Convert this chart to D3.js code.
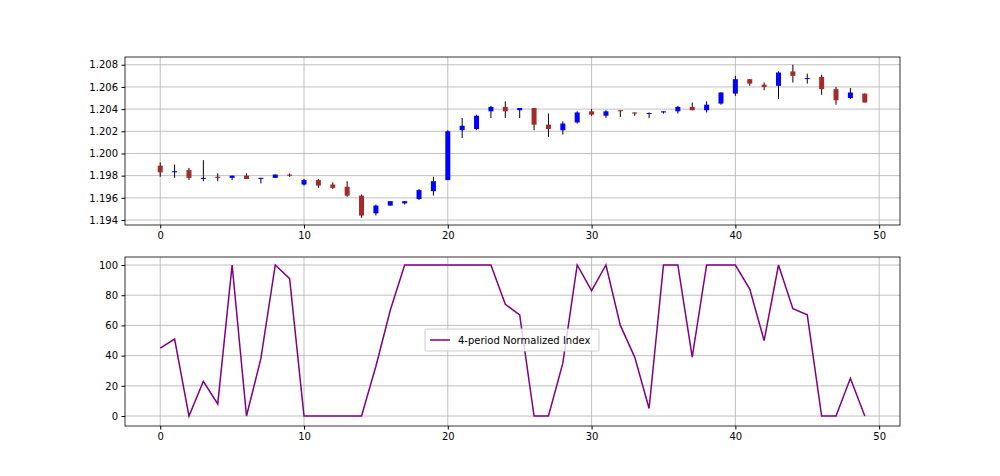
<!DOCTYPE html>
<html><head><meta charset="utf-8">
<script src="https://cdn.jsdelivr.net/npm/d3@7"></script>
<style>body{margin:0;background:#fff}text{font-family:"DejaVu Sans",sans-serif}</style>
</head><body><svg width="1000" height="476"></svg>
<script>
const opens  = [1.1989,1.1983,1.1985,1.1977,1.1979,1.1978,1.1980,1.1977,1.1978,1.1981,1.1972,1.1976,1.1972,1.1970,1.1962,1.1946,1.1953,1.1955,1.1959,1.1966,1.1976,1.2021,1.2022,1.2038,1.2042,1.2039,1.2041,1.2026,1.2021,1.2028,1.2038,1.2034,1.2039,1.2037,1.2036,1.2037,1.2038,1.2042,1.2039,1.2045,1.2054,1.2067,1.2062,1.2061,1.2074,1.2068,1.2069,1.2058,1.2050,1.2054];
const highs  = [1.1992,1.1990,1.1987,1.1994,1.1982,1.1980,1.1982,1.1978,1.1981,1.1982,1.1977,1.1977,1.1974,1.1975,1.1963,1.1954,1.1957,1.1957,1.1968,1.1979,1.2021,1.2032,1.2035,1.2043,1.2047,1.2041,1.2041,1.2036,1.2029,1.2038,1.2040,1.2039,1.2039,1.2037,1.2037,1.2038,1.2043,1.2046,1.2047,1.2055,1.2070,1.2067,1.2064,1.2074,1.2080,1.2072,1.2071,1.2060,1.2059,1.2054];
const lows   = [1.1979,1.1978,1.1976,1.1975,1.1975,1.1976,1.1977,1.1973,1.1978,1.1979,1.1971,1.1969,1.1968,1.1961,1.1942,1.1944,1.1953,1.1954,1.1958,1.1962,1.1976,1.2014,1.2021,1.2032,1.2032,1.2032,1.2021,1.2015,1.2017,1.2027,1.2034,1.2032,1.2033,1.2034,1.2032,1.2036,1.2036,1.2039,1.2037,1.2044,1.2052,1.2061,1.2057,1.2049,1.2064,1.2063,1.2053,1.2044,1.2049,1.2046];
const closes = [1.1983,1.1984,1.1978,1.1978,1.1978,1.1980,1.1977,1.1978,1.1981,1.1980,1.1976,1.1971,1.1969,1.1962,1.1944,1.1953,1.1957,1.1957,1.1967,1.1975,1.2020,1.2025,1.2034,1.2042,1.2038,1.2041,1.2026,1.2022,1.2027,1.2037,1.2035,1.2038,1.2038,1.2036,1.20365,1.2038,1.2042,1.2039,1.2044,1.2055,1.2067,1.2063,1.2060,1.2073,1.2070,1.2068,1.2058,1.2048,1.2055,1.2046];
const index  = [45,51,0,23,8,100,0,38,100,91,0,0,0,0,0,33,70,100,100,100,100,100,100,100,74,67,0,0,35,100,83,100,60,39,5,100,100,39,100,100,100,84,50,100,71,67,0,0,25,0];
const xTicks = [0,10,20,30,40,50];
const topTicks = [1.194,1.196,1.198,1.200,1.202,1.204,1.206,1.208];
const botTicks = [0,20,40,60,80,100];

const svg = d3.select("svg");
const L = 125, R = 900;
const x = d3.scaleLinear().domain([-2.45, 51.45]).range([L, R]);
const yTop = d3.scaleLinear().domain([1.19355, 1.2087]).range([225, 57]);
const yBot = d3.scaleLinear().domain([-6.6, 105.3]).range([426, 257]);

function panel(y, ticks, fmt, top, bottom) {
  const g = svg.append("g");
  g.selectAll(".gx").data(xTicks).enter().append("line")
    .attr("x1", d => x(d)).attr("x2", d => x(d)).attr("y1", top).attr("y2", bottom)
    .attr("stroke", "#b0b0b0").attr("stroke-width", 0.8);
  g.selectAll(".gy").data(ticks).enter().append("line")
    .attr("x1", L).attr("x2", R).attr("y1", d => y(d)).attr("y2", d => y(d))
    .attr("stroke", "#b0b0b0").attr("stroke-width", 0.8);
  const ax = svg.append("g").attr("transform", `translate(0,${bottom})`)
    .call(d3.axisBottom(x).tickValues(xTicks).tickSize(3.5).tickPadding(3.5).tickFormat(d3.format("d")));
  const ay = svg.append("g").attr("transform", `translate(${L},0)`)
    .call(d3.axisLeft(y).tickValues(ticks).tickSize(3.5).tickPadding(3.5).tickFormat(fmt));
  [ax, ay].forEach(a => {
    a.select(".domain").remove();
    a.selectAll("text").attr("font-size", 10).attr("fill", "#000");
  });
  svg.append("rect").attr("x", L).attr("y", top).attr("width", R - L).attr("height", bottom - top)
    .attr("fill", "none").attr("stroke", "#000").attr("stroke-width", 0.8);
  return g;
}

const g1 = panel(yTop, topTicks, d3.format(".3f"), 57, 225);
opens.forEach((o, i) => {
  const c = closes[i];
  g1.append("line").attr("x1", x(i)).attr("x2", x(i))
    .attr("y1", yTop(highs[i])).attr("y2", yTop(lows[i]))
    .attr("stroke", "#000").attr("stroke-width", 1);
  const t = yTop(Math.max(o, c)), b = yTop(Math.min(o, c));
  g1.append("rect").attr("x", x(i) - 2.5).attr("width", 5)
    .attr("y", t).attr("height", Math.max(b - t, 1))
    .attr("fill", c >= o ? "blue" : "brown");
});

const g2 = panel(yBot, botTicks, d3.format("d"), 257, 426);
g2.append("path").datum(index)
  .attr("d", d3.line().x((d, i) => x(i)).y(d => yBot(d)))
  .attr("fill", "none").attr("stroke", "purple").attr("stroke-width", 1.5);

const lg = svg.append("g").attr("transform", "translate(425,329)");
lg.append("rect").attr("width", 174).attr("height", 22).attr("rx", 2)
  .attr("fill", "#fff").attr("fill-opacity", 0.8).attr("stroke", "#ccc");
lg.append("line").attr("x1", 5).attr("x2", 25).attr("y1", 11).attr("y2", 11)
  .attr("stroke", "purple").attr("stroke-width", 1.5);
lg.append("text").attr("x", 33).attr("y", 15).attr("font-size", 10).text("4-period Normalized Index");
</script></body></html>
